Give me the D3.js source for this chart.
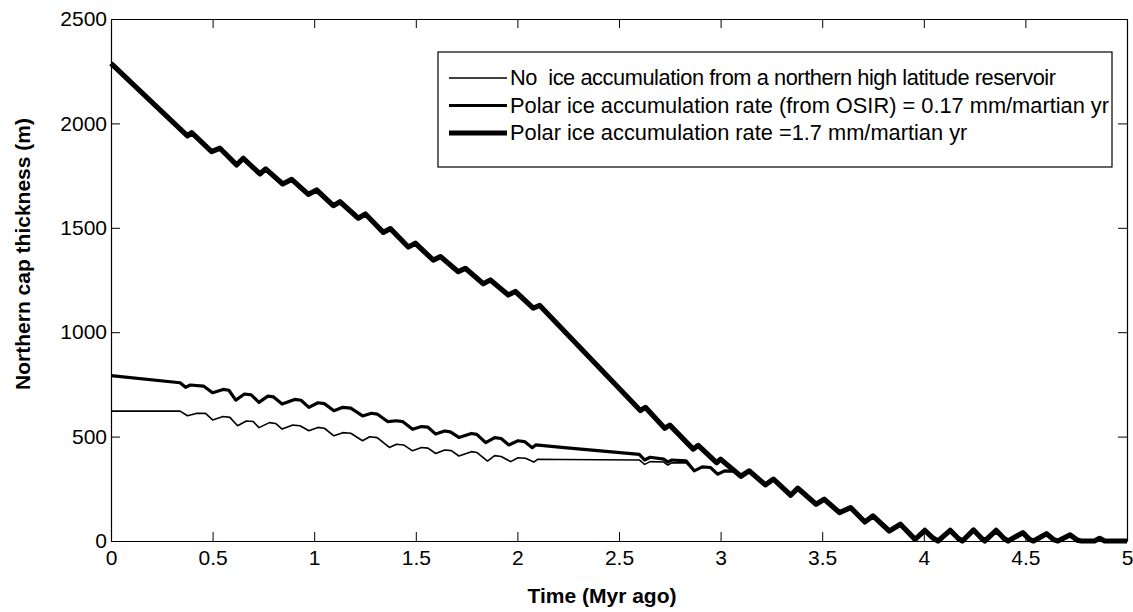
<!DOCTYPE html>
<html>
<head>
<meta charset="utf-8">
<script src="https://cdn.jsdelivr.net/npm/d3@7"></script>
<style>
  html, body { margin: 0; padding: 0; background: #fff; }
  svg { display: block; }
  text { font-family: "Liberation Sans", Arial, Helvetica, sans-serif; white-space: pre; }
</style>
</head>
<body>
<svg id="chart" width="1133" height="612"></svg>
<script>
// ---------------- data ----------------
const seriesNames = [
  "No  ice accumulation from a northern high latitude reservoir",
  "Polar ice accumulation rate (from OSIR) = 0.17 mm/martian yr",
  "Polar ice accumulation rate =1.7 mm/martian yr"
];
const xTicks = [0, 0.5, 1, 1.5, 2, 2.5, 3, 3.5, 4, 4.5, 5];
const xTickLabels = ["0", "0.5", "1", "1.5", "2", "2.5", "3", "3.5", "4", "4.5", "5"];
const yTicks = [0, 500, 1000, 1500, 2000, 2500];
const yTickLabels = ["0", "500", "1000", "1500", "2000", "2500"];

// [time (Myr ago), thickness (m)]
const noAccumulation = [
  [0,622],[0.34,622],[0.376,600],[0.42,611],[0.465,611],[0.50,580],[0.552,596],[0.585,592],
  [0.623,552],[0.666,575],[0.70,572],[0.728,543],[0.78,567],[0.81,563],[0.842,536],[0.895,555],
  [0.93,552],[0.974,528],[1.018,544],[1.05,540],[1.097,504],[1.141,519],[1.18,516],[1.238,480],
  [1.273,499],[1.31,495],[1.37,448],[1.405,463],[1.44,460],[1.484,432],[1.528,448],[1.56,445],
  [1.598,419],[1.642,436],[1.675,433],[1.712,407],[1.774,428],[1.80,424],[1.853,383],[1.888,409],
  [1.92,405],[1.967,380],[2.003,399],[2.04,396],[2.081,378],[2.099,391],[2.22,390],[2.60,388],
  [2.626,367],[2.653,380],[2.72,378],[2.74,364],[2.76,374],[2.83,374],[2.87,336],[2.91,355],
  [2.95,352],[2.985,320],[3.02,336],[3.07,334],[3.10,312]
];
const osirRate = [
  [0,792],[0.34,758],[0.367,736],[0.39,747],[0.455,742],[0.50,710],[0.552,726],[0.58,722],
  [0.614,675],[0.657,704],[0.69,700],[0.728,664],[0.772,694],[0.80,690],[0.842,656],[0.904,678],
  [0.935,674],[0.974,640],[1.018,662],[1.05,658],[1.097,624],[1.141,640],[1.18,636],[1.238,599],
  [1.282,612],[1.31,608],[1.361,572],[1.405,576],[1.435,572],[1.484,535],[1.528,548],[1.56,545],
  [1.598,512],[1.642,527],[1.67,523],[1.712,496],[1.774,515],[1.80,511],[1.844,471],[1.888,495],
  [1.92,491],[1.958,460],[2.003,480],[2.035,476],[2.073,447],[2.09,460],[2.231,447],[2.60,415],
  [2.626,388],[2.653,401],[2.72,392],[2.74,378],[2.76,388],[2.83,384],[2.87,336],[2.91,355],
  [2.95,352],[2.985,320],[3.02,336],[3.07,334],[3.10,312]
];
const highRate = [
  [0,2288],[0.376,1940],[0.397,1956],[0.495,1865],[0.536,1881],[0.618,1801],[0.651,1833],
  [0.733,1758],[0.761,1782],[0.845,1710],[0.889,1732],[0.971,1660],[1.012,1681],[1.094,1606],
  [1.127,1625],[1.217,1546],[1.252,1566],[1.34,1478],[1.375,1496],[1.463,1408],[1.498,1426],
  [1.586,1345],[1.621,1362],[1.709,1290],[1.744,1306],[1.832,1232],[1.867,1250],[1.955,1178],
  [1.99,1195],[2.078,1115],[2.11,1128],[2.605,625],[2.63,640],[2.725,540],[2.75,555],
  [2.865,440],[2.89,458],[2.98,375],[3.0,392],[3.10,310],[3.14,336],[3.22,269],[3.26,296],
  [3.345,219],[3.38,253],[3.47,176],[3.51,200],[3.585,136],[3.64,160],[3.71,91],[3.75,120],
  [3.83,48],[3.885,80],[3.957,8],[4.005,51],[4.045,14],[4.07,0],[4.13,51],[4.17,12],[4.19,0],
  [4.245,53],[4.285,12],[4.30,0],[4.356,51],[4.395,12],[4.415,0],[4.487,40],[4.52,8],[4.54,0],
  [4.604,35],[4.64,6],[4.66,0],[4.72,29],[4.755,4],[4.775,0],[4.84,0],[4.865,13],[4.89,0],[5,0]
];

// ---------------- layout ----------------
const svg = d3.select("#chart");
const L = 111, R = 1127, T = 19, B = 541;
const x = d3.scaleLinear().domain([0, 5]).range([L, R]);
const y = d3.scaleLinear().domain([0, 2500]).range([B, T]);
const widths = [1.6, 3.2, 5.2];
const data = [noAccumulation, osirRate, highRate];

const line = d3.line().x(d => x(d[0])).y(d => y(d[1])).curve(d3.curveLinear);

data.forEach((s, i) => {
  svg.append("path").datum(s)
    .attr("d", line)
    .attr("fill", "none")
    .attr("stroke", "#000")
    .attr("stroke-width", widths[i])
    .attr("stroke-linejoin", "round");
});

// axes (inward ticks, box)
const fs = 21;
const lfs = 21.8;
const axB = d3.axisBottom(x).tickValues(xTicks).tickFormat((d, i) => xTickLabels[i])
  .tickSizeInner(-9).tickSizeOuter(0).tickPadding(9);
const axT = d3.axisTop(x).tickValues(xTicks).tickFormat("")
  .tickSizeInner(-9).tickSizeOuter(0);
const axL = d3.axisLeft(y).tickValues(yTicks).tickFormat((d, i) => yTickLabels[i])
  .tickSizeInner(-9).tickSizeOuter(0).tickPadding(4);
const axR = d3.axisRight(y).tickValues(yTicks).tickFormat("")
  .tickSizeInner(-9).tickSizeOuter(0);

function styleAxis(g) {
  g.selectAll("path.domain").attr("stroke", "#000").attr("stroke-width", 1.2);
  g.selectAll(".tick line").attr("stroke", "#000").attr("stroke-width", 1);
  g.selectAll(".tick text").attr("fill", "#000")
    .style("font-family", '"Liberation Sans", Arial, sans-serif')
    .style("font-size", fs + "px");
  g.attr("font-family", null).attr("font-size", null);
}
svg.append("g").attr("transform", `translate(0,${B})`).call(axB).call(styleAxis);
svg.append("g").attr("transform", `translate(0,${T})`).call(axT).call(styleAxis);
svg.append("g").attr("transform", `translate(${L},0)`).call(axL).call(styleAxis);
svg.append("g").attr("transform", `translate(${R},0)`).call(axR).call(styleAxis);

// axis titles
svg.append("text")
  .attr("x", 602).attr("y", 603)
  .attr("text-anchor", "middle")
  .style("font-weight", "bold").style("font-size", fs + "px")
  .text("Time (Myr ago)");
svg.append("text")
  .attr("transform", "translate(30,254) rotate(-90)")
  .attr("text-anchor", "middle")
  .style("font-weight", "bold").style("font-size", fs + "px")
  .text("Northern cap thickness (m)");

// legend
const lg = svg.append("g");
lg.append("rect").attr("x", 438).attr("y", 52).attr("width", 674).attr("height", 115)
  .attr("fill", "#fff").attr("stroke", "#000").attr("stroke-width", 1.2);
const rowBase = [85, 112.5, 140];
seriesNames.forEach((name, i) => {
  const cy = rowBase[i] - 7;
  lg.append("line").attr("x1", 449).attr("x2", 507).attr("y1", cy).attr("y2", cy)
    .attr("stroke", "#000").attr("stroke-width", widths[i]);
  const t = lg.append("text").attr("x", 510).attr("y", rowBase[i])
    .attr("xml:space", "preserve")
    .style("font-size", lfs + "px").text(name);
  if (i === 0) t.attr("textLength", 546).attr("lengthAdjust", "spacing");
});
</script>
</body>
</html>
